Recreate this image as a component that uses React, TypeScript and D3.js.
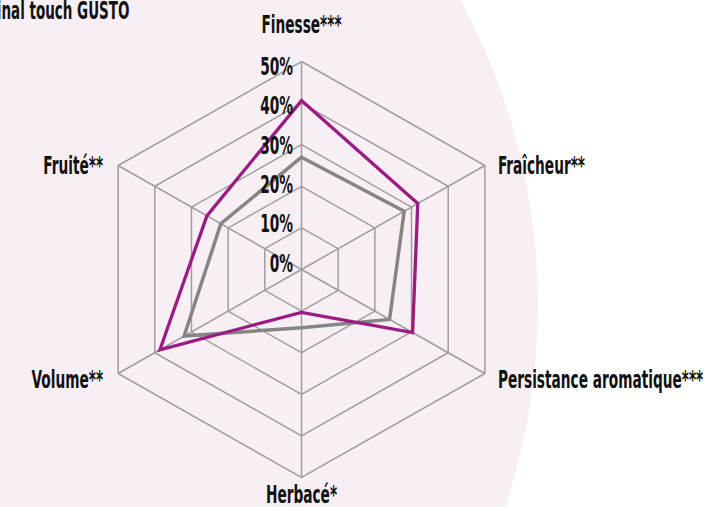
import React from "react";
import * as d3 from "d3";

const axes = ["Finesse***", "Fraîcheur**", "Persistance aromatique***", "Herbacé*", "Volume**", "Fruité**"];
const seriesNames = ["Final touch GUSTO", "Témoin"];
const gustoValues = [40.6, 31.7, 30.3, 10.3, 38.6, 25.8];
const temoinValues = [27, 28, 24, 14, 32, 22];
const tickValues = [0, 10, 20, 30, 40, 50];
const tickLabels = ["0%", "10%", "20%", "30%", "40%", "50%"];

const W = 706;
const H = 507;
const CX = 301.5;
const CY = 269.5;
const SXR = 1.018;
const FONT = "'DejaVu Sans Condensed', 'DejaVu Sans', sans-serif";
const TX = 0.635;

const r = d3.scaleLinear().domain([0, 50]).range([0, 208]);
const tickY = d3.scaleLinear().domain([0, 50]).range([271.5, 75]);
const angle = d3.scaleLinear().domain([0, axes.length]).range([0, 2 * Math.PI]);

function pt(i: number, v: number): [number, number] {
  const a = angle(i);
  return [CX + SXR * r(v) * Math.sin(a), CY - r(v) * Math.cos(a)];
}

const line = d3.line<[number, number]>().curve(d3.curveLinearClosed);

function Label({ x, y, anchor, sx = TX, children }: { x: number; y: number; anchor: string; sx?: number; children: React.ReactNode }) {
  return (
    <text
      transform={`translate(${x},${y}) scale(${sx},1)`}
      textAnchor={anchor}
      fontFamily={FONT}
      fontStretch="condensed"
      fontWeight="bold"
      fontSize={24}
      fill="#111"
    >
      {children}
    </text>
  );
}

export default function App() {
  const rings = tickValues.filter((v) => v > 0);
  const labelPos: { x: number; y: number; anchor: string }[] = axes.map((_, i) => {
    const [x, y] = pt(i, 50);
    if (i === 0) return { x, y: y - 28.5, anchor: "middle" };
    if (i === 3) return { x, y: y + 25, anchor: "middle" };
    if (i === 1) return { x: x + 13, y: y + 8, anchor: "start" };
    if (i === 2) return { x: x + 13, y: y + 14.5, anchor: "start" };
    if (i === 4) return { x: x - 15, y: y + 14.5, anchor: "end" };
    return { x: x - 15, y: y + 8, anchor: "end" };
  });
  return (
    <svg width={W} height={H} style={{ position: "absolute", left: 0, top: 0 }}>
      <rect x={0} y={0} width={W} height={H} fill="#ffffff" />
      <ellipse cx={-62} cy={305} rx={600} ry={620} fill="#f8eff5" />
      <g>
        {rings.map((v) => (
          <path
            key={v}
            d={line(axes.map((_, i) => pt(i, v))) || ""}
            fill="none"
            stroke="#9e9e9e"
            strokeWidth={1.5}
          />
        ))}
        {axes.map((_, i) => {
          const [x, y] = pt(i, 50);
          return <line key={i} x1={CX} y1={CY} x2={x} y2={y} stroke="#9e9e9e" strokeWidth={1.5} />;
        })}
      </g>
      <path
        d={line(temoinValues.map((v, i) => pt(i, v))) || ""}
        fill="none"
        stroke="#858585"
        strokeWidth={3.5}
        strokeLinejoin="miter"
      />
      <path
        d={line(gustoValues.map((v, i) => pt(i, v))) || ""}
        fill="none"
        stroke="#9c1b80"
        strokeWidth={3.3}
        strokeLinejoin="miter"
      />
      {tickValues.map((v, i) => (
        <Label key={v} x={293} y={tickY(v)} anchor="end">
          {tickLabels[i]}
        </Label>
      ))}
      {axes.map((a, i) => (
        <Label key={a} x={labelPos[i].x} y={labelPos[i].y} anchor={labelPos[i].anchor}>
          {a}
        </Label>
      ))}
      <Label x={129.5} y={18.5} anchor="end" sx={0.625}>
        {seriesNames[0]}
      </Label>
    </svg>
  );
}
